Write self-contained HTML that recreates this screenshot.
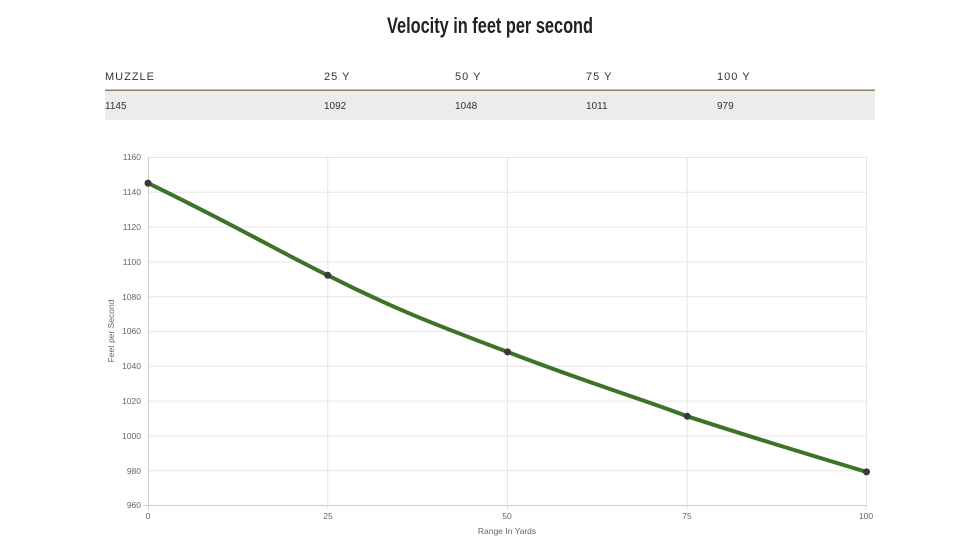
<!DOCTYPE html>
<html><head><meta charset="utf-8"><style>
html,body{margin:0;padding:0;background:#fff;width:978px;height:550px;overflow:hidden}
</style></head><body>
<svg width="978" height="550" xmlns="http://www.w3.org/2000/svg">
<text x="387" y="33" textLength="206" lengthAdjust="spacingAndGlyphs" font-family="'Liberation Sans',sans-serif" font-weight="bold" font-size="22" fill="#222">Velocity in feet per second</text>
<g font-family="'Liberation Sans','DejaVu Sans',sans-serif" fill="#333">
<text x="105" y="80" font-size="11" letter-spacing="1">MUZZLE</text>
<text x="324" y="80" font-size="11" letter-spacing="1">25 Y</text>
<text x="455" y="80" font-size="11" letter-spacing="1">50 Y</text>
<text x="586" y="80" font-size="11" letter-spacing="1">75 Y</text>
<text x="717" y="80" font-size="11" letter-spacing="1">100 Y</text>
</g>
<rect x="105" y="91" width="770" height="29" fill="#ececec"/>
<rect x="105" y="89.5" width="770" height="1.5" fill="#8f8160"/>
<g font-family="'Liberation Sans','DejaVu Sans',sans-serif" fill="#333" font-size="10">
<text x="105" y="109">1145</text><text x="324" y="109">1092</text><text x="455" y="109">1048</text><text x="586" y="109">1011</text><text x="717" y="109">979</text>
</g>
<g stroke="#e6e6e6" stroke-width="1">
<line x1="148" y1="157.5" x2="867" y2="157.5"/><line x1="148" y1="192.3" x2="867" y2="192.3"/><line x1="148" y1="227.1" x2="867" y2="227.1"/><line x1="148" y1="261.9" x2="867" y2="261.9"/><line x1="148" y1="296.7" x2="867" y2="296.7"/><line x1="148" y1="331.5" x2="867" y2="331.5"/><line x1="148" y1="366.3" x2="867" y2="366.3"/><line x1="148" y1="401.1" x2="867" y2="401.1"/><line x1="148" y1="435.9" x2="867" y2="435.9"/><line x1="148" y1="470.7" x2="867" y2="470.7"/>
<line x1="327.75" y1="157" x2="327.75" y2="510"/><line x1="507.5" y1="157" x2="507.5" y2="510"/><line x1="687.25" y1="157" x2="687.25" y2="510"/><line x1="866.5" y1="157" x2="866.5" y2="510"/>
<line x1="143" y1="505.5" x2="867" y2="505.5" stroke="#ccc"/><line x1="148.5" y1="157" x2="148.5" y2="510" stroke="#ccc"/>
</g>
<g font-family="'Liberation Sans',sans-serif" font-size="8.5" fill="#666" text-anchor="end">
<text x="141" y="160">1160</text><text x="141" y="195">1140</text><text x="141" y="230">1120</text><text x="141" y="265">1100</text><text x="141" y="300">1080</text><text x="141" y="334">1060</text><text x="141" y="369">1040</text><text x="141" y="404">1020</text><text x="141" y="439">1000</text><text x="141" y="474">980</text><text x="141" y="508">960</text>
</g>
<g font-family="'Liberation Sans',sans-serif" font-size="8.5" fill="#666" text-anchor="middle">
<text x="148" y="519">0</text><text x="328" y="519">25</text><text x="507" y="519">50</text><text x="687" y="519">75</text><text x="866" y="519">100</text>
<text x="507" y="534">Range In Yards</text>
<text transform="translate(114,331) rotate(-90)">Feet per Second</text>
</g>
<path d="M148,183.1 C240,228 280,252 327.75,275.3 C400,312 450,330 507.5,351.9 C580,380 630,395 687.25,416.3 C760,440 810,455 866.5,471.9" fill="none" stroke="#3d7326" stroke-width="4" stroke-linecap="round"/>
<g fill="#3a3a3a">
<circle cx="148" cy="183.1" r="3.5"/><circle cx="327.75" cy="275.3" r="3.5"/><circle cx="507.5" cy="351.9" r="3.5"/><circle cx="687.25" cy="416.3" r="3.5"/><circle cx="866.5" cy="471.9" r="3.5"/>
</g>
</svg>
</body></html>
